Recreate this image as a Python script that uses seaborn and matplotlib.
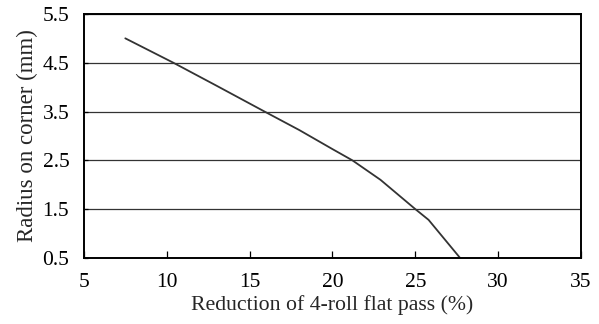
import numpy as np
import pandas as pd
import matplotlib
matplotlib.use("Agg")
import matplotlib.pyplot as plt
import seaborn as sns

# values
reduction = [7.5, 10.4, 13.0, 15.9, 18.0, 20.0, 21.2, 22.9, 25.0, 25.8, 27.7]
radius = [5.0, 4.5, 4.03, 3.5, 3.12, 2.73, 2.5, 2.1, 1.5, 1.28, 0.5]
x_ticks = [5, 10, 15, 20, 25, 30, 35]
y_ticks = [0.5, 1.5, 2.5, 3.5, 4.5, 5.5]

df = pd.DataFrame({"reduction": reduction, "radius": radius})

sns.set_style("ticks")
plt.rcParams["font.family"] = ["Liberation Serif", "DejaVu Serif"]

fig = plt.figure(figsize=(5.99, 3.24), dpi=100)
ax = fig.add_axes([0.140, 0.204, 0.830, 0.753])

sns.lineplot(data=df, x="reduction", y="radius", ax=ax, color="#333333", linewidth=1.3)

ax.set_xlim(5, 35)
ax.set_ylim(0.5, 5.5)
ax.set_xticks(x_ticks)
ax.set_yticks(y_ticks)
ax.yaxis.grid(True, color="#333333", linewidth=0.9)
ax.set_axisbelow(True)

for side in ["top", "right", "bottom", "left"]:
    ax.spines[side].set_visible(True)
    ax.spines[side].set_color("black")
    ax.spines[side].set_linewidth(1.4)

ax.tick_params(axis="x", direction="in", length=5, width=0.9, pad=11, labelsize=15.5, colors="black")
ax.tick_params(axis="y", direction="in", length=3, width=0.9, pad=10.5, labelsize=15.5, colors="black")

ax.set_xlabel("Reduction of 4-roll flat pass (%)", fontsize=15.7, labelpad=2)
ax.set_ylabel("Radius on corner (mm)", fontsize=16.5, labelpad=3)

fig.savefig("out.png", dpi=100)
